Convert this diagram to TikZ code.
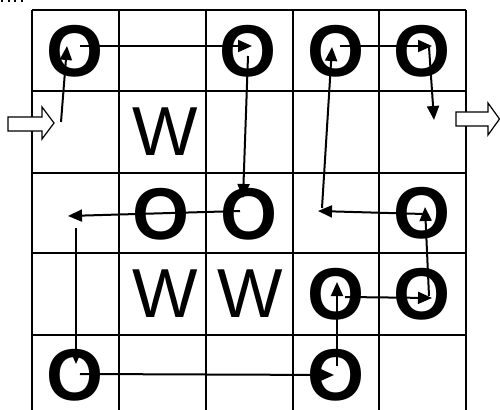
\documentclass[tikz,border=0pt]{standalone}
\usepackage{fontspec}
\setmainfont{Liberation Sans}
\usetikzlibrary{arrows.meta}
\begin{document}
\begin{tikzpicture}[x=0.75pt,y=-0.75pt,
  gridline/.style={line width=1.7pt},
  mv/.style={line width=1.5pt,-{Triangle[length=10.5pt,width=9pt]}},
  ocirc/.style={inner sep=0pt,font=\fontsize{55}{55}\selectfont\bfseries},
  wall/.style={inner sep=0pt,font=\fontsize{52}{52}\selectfont},
  blockarrow/.style={draw,fill=white,line width=0.9pt}]
\useasboundingbox (0,0) rectangle (500,410);
% stray dots at top-left
\foreach \dx in {1,8,14,21} \fill (\dx,0) rectangle ++(2,2);
% grid
\foreach \gx in {32,119,206,293,379,466} \draw[gridline] (\gx,10) -- (\gx,410);
\foreach \gy in {10,91,173,253,335} \draw[gridline] (32,\gy) -- (466,\gy);
% entry / exit block arrows
\draw[blockarrow] (8,117) -- (42,117) -- (42,107) -- (54,123) -- (42,139) -- (42,131) -- (8,131) -- cycle;
\draw[blockarrow] (456,112) -- (488,112) -- (488,103) -- (499.5,119) -- (488,135) -- (488,126) -- (456,126) -- cycle;
% O's
\node[ocirc] (o11) at (75,51) {O};
\node[ocirc] (o13) at (248,51) {O};
\node[ocirc] (o14) at (336,51) {O};
\node[ocirc] (o15) at (422.5,51) {O};
\node[ocirc] (o32) at (161.5,214) {O};
\node[ocirc] (o33) at (249,214) {O};
\node[ocirc] (o35) at (422.5,213) {O};
\node[ocirc] (o44) at (336,294) {O};
\node[ocirc] (o45) at (422.5,294) {O};
\node[ocirc] (o51) at (75,375) {O};
\node[ocirc] (o54) at (336,375) {O};
% W's
\node[wall] (w22) at (165,132) {W};
\node[wall] (w42) at (165,294) {W};
\node[wall] (w43) at (250.5,294) {W};
% arrow endpoints
\coordinate (s1) at (61,122);   \coordinate (e1) at (67,46);
\coordinate (s2) at (80,46);    \coordinate (e2) at (252,46);
\coordinate (s3) at (248,56);   \coordinate (e3) at (243,198);
\coordinate (s4) at (240,211);  \coordinate (e4) at (68,216);
\coordinate (s5) at (76,228);   \coordinate (e5) at (76,364);
\coordinate (s6) at (80,374);   \coordinate (e6) at (334,375);
\coordinate (s7) at (337,366);  \coordinate (e7) at (337,282);
\coordinate (s8) at (345,297);  \coordinate (e8) at (432,298);
\coordinate (s9) at (429,296);  \coordinate (e9) at (425,207);
\coordinate (s10) at (424,214); \coordinate (e10) at (318,211);
\coordinate (s11) at (322,208); \coordinate (e11) at (332,47);
\coordinate (s12) at (340,46);  \coordinate (e12) at (432,46);
\coordinate (s13) at (429,47);  \coordinate (e13) at (434,120);
\foreach \k in {1,...,13} \draw[mv] (s\k) -- (e\k);
\end{tikzpicture}
\end{document}
